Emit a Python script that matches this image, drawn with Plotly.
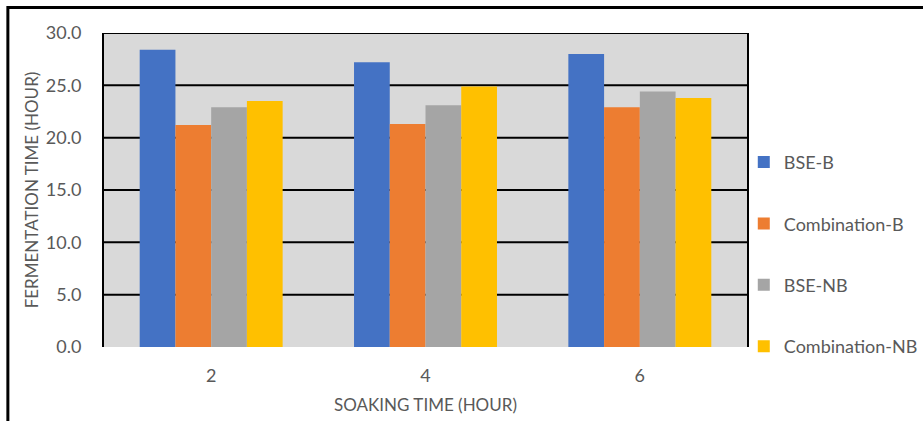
import plotly.graph_objects as go

# Soaking time categories (hours)
soaking_time = ["2", "4", "6"]

# Fermentation time (hours) for each treatment
bse_b = [28.4, 27.2, 28.0]
combination_b = [21.2, 21.3, 22.9]
bse_nb = [22.9, 23.1, 24.4]
combination_nb = [23.5, 24.9, 23.8]

series_names = ["BSE-B", "Combination-B", "BSE-NB", "Combination-NB"]
series_values = [bse_b, combination_b, bse_nb, combination_nb]
series_colors = ["#4472C4", "#ED7D31", "#A5A5A5", "#FFC000"]

y_ticks = [0, 5, 10, 15, 20, 25, 30]
grid_levels = [5, 10, 15, 20, 25, 30]

FONT = "Lato, 'Open Sans', sans-serif"
TEXT_GRAY = "#595959"

fig = go.Figure()
for name, vals, color in zip(series_names, series_values, series_colors):
    fig.add_trace(go.Bar(
        x=soaking_time, y=vals, name=name, legendgroup=name,
        marker=dict(color=color, line=dict(width=0)),
    ))

# Horizontal gridlines drawn as black rules behind the bars
shapes = [
    dict(type="line", xref="paper", yref="y", x0=0, x1=1, y0=g, y1=g,
         line=dict(color="black", width=2), layer="below")
    for g in grid_levels
]
# Outer chart frame
shapes.append(dict(type="rect", xref="paper", yref="paper",
                   x0=-0.1495, x1=1.6, y0=-0.6, y1=1.081,
                   line=dict(color="black", width=3), layer="above"))

fig.update_layout(
    width=923, height=421,
    margin=dict(l=104, r=176, t=33, b=74, autoexpand=False),
    paper_bgcolor="white",
    plot_bgcolor="#D9D9D9",
    barmode="group",
    bargap=0.333,
    bargroupgap=0,
    font=dict(family=FONT, size=18, color=TEXT_GRAY),
    shapes=shapes,
    legend=dict(
        x=0.995, xanchor="left", y=0.295, yanchor="middle",
        font=dict(family=FONT, size=18, color=TEXT_GRAY),
        tracegroupgap=35,
        bgcolor="rgba(0,0,0,0)",
    ),
    xaxis=dict(
        type="category",
        showgrid=False, zeroline=False, showline=False,
        ticks="", ticklabelstandoff=16,
        tickfont=dict(size=18, color=TEXT_GRAY),
        title=dict(text="SOAKING TIME (HOUR)", standoff=14,
                   font=dict(size=17, color=TEXT_GRAY)),
    ),
    yaxis=dict(
        range=[0, 30],
        tickvals=y_ticks,
        tickformat=".1f",
        showgrid=False, zeroline=False,
        showline=True, linecolor="black", linewidth=2, mirror=True,
        ticks="", ticklabelstandoff=17,
        tickfont=dict(size=18, color=TEXT_GRAY),
        title=dict(text="FERMENTATION TIME (HOUR)", standoff=3,
                   font=dict(size=17, color=TEXT_GRAY)),
    ),
)

fig.write_html("out.html")
